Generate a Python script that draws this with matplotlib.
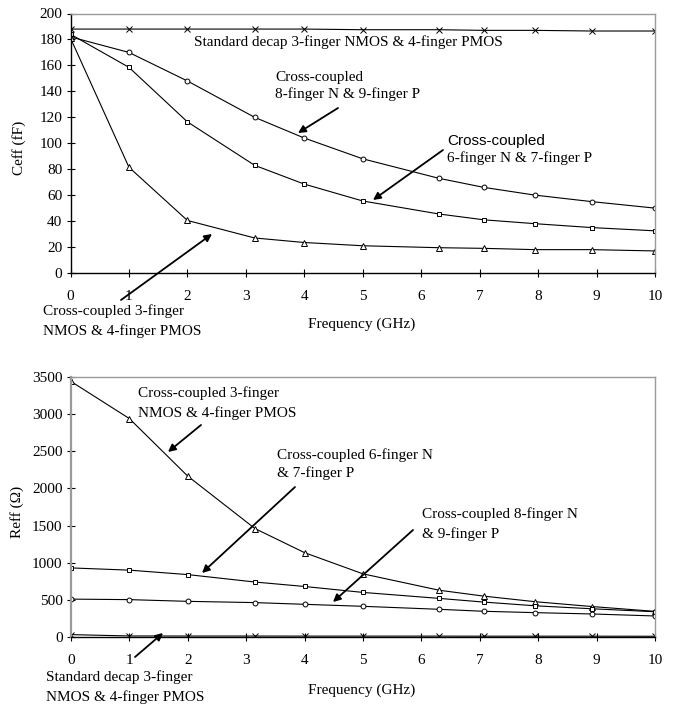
import matplotlib
matplotlib.use("Agg")
import matplotlib.pyplot as plt
from matplotlib.patches import FancyArrowPatch

# ---------------- data ----------------
freq = [0, 1, 2, 3.15, 4, 5, 6.3, 7.07, 7.95, 8.92, 10]

ceff_std = [188, 188, 188, 188, 188, 187.5, 187.5, 187, 187, 186.5, 186.5]
ceff_8f = [182, 170, 148, 120, 104, 88, 73, 66, 60, 55, 50]
ceff_6f = [184, 158.5, 116.5, 83, 68.5, 55.5, 45.5, 41, 38, 35, 32.5]
ceff_3f = [181, 81.5, 40.5, 27, 23.5, 21, 19.5, 19, 18, 18, 17]

reff_std = [32, 14, 13, 13, 12, 12, 12, 11, 11, 11, 10]
reff_3f = [3440, 2940, 2165, 1460, 1135, 850, 630, 550, 475, 410, 345]
reff_6f = [930, 900, 840, 740, 680, 600, 520, 470, 420, 380, 340]
reff_8f = [510, 503, 480, 463, 440, 413, 373, 346, 328, 310, 283]

x_ticks = list(range(0, 11))
ceff_ticks = list(range(0, 201, 20))
reff_ticks = list(range(0, 3501, 500))

# ---------------- style ----------------
W, H = 681, 707
SERIF = ["Liberation Serif", "DejaVu Serif"]
SANS = ["Liberation Sans", "DejaVu Sans"]
plt.rcParams["font.family"] = SERIF
FS = 11

fig = plt.figure(figsize=(W / 100, H / 100), dpi=100)


def P(x, y):
    return (x / W, 1 - y / H)


def make_ax(left, top, right, bottom):
    return fig.add_axes([left / W, 1 - bottom / H, (right - left) / W, (bottom - top) / H])


ax1 = make_ax(70.5, 13.5, 655, 273)
ax2 = make_ax(71, 377, 655, 637)

mk = dict(color="black", lw=0.8, mfc="white", mec="black", mew=0.7)

ax1.plot(freq, ceff_std, marker="x", ms=4, **mk)
ax1.plot(freq, ceff_8f, marker="o", ms=3.5, **mk)
ax1.plot(freq, ceff_6f, marker="s", ms=3.5, **mk)
ax1.plot(freq, ceff_3f, marker="^", ms=4, **mk)

ax2.plot(freq, reff_std, marker="x", ms=4, **mk)
ax2.plot(freq, reff_3f, marker="^", ms=4, **mk)
ax2.plot(freq, reff_6f, marker="s", ms=3.5, **mk)
ax2.plot(freq, reff_8f, marker="o", ms=3.5, **mk)

for ax, yt, ymax in ((ax1, ceff_ticks, 200), (ax2, reff_ticks, 3500)):
    ax.set_xlim(0, 10)
    ax.set_ylim(0, ymax)
    ax.set_xticks(x_ticks)
    ax.set_yticks(yt)
    ax.tick_params(direction="inout", length=6, width=0.8, labelsize=FS, colors="black")
    ax.tick_params(axis="x", pad=9)
    ax.tick_params(axis="y", pad=3)
    for s in ("top", "right"):
        ax.spines[s].set_color("#9a9a9a")
        ax.spines[s].set_linewidth(1.0)
    ax.spines["bottom"].set_color("black")
    ax.spines["bottom"].set_linewidth(1.0)
    ax.set_facecolor("white")

ax1.spines["left"].set_color("black")
ax1.spines["left"].set_linewidth(1.0)
ax2.spines["left"].set_color("#9a9a9a")
ax2.spines["left"].set_linewidth(1.6)

# axis titles
fig.text(*P(362, 324), "Frequency (GHz)", ha="center", va="center", fontsize=FS)
fig.text(*P(362, 690), "Frequency (GHz)", ha="center", va="center", fontsize=FS)
fig.text(*P(19, 148), "Ceff (fF)", ha="center", va="center", rotation=90, fontsize=FS)
fig.text(*P(17, 512), "Reff (Ω)", ha="center", va="center", rotation=90, fontsize=FS)


def label(x, y, s, family=SERIF):
    fig.text(*P(x, y), s, ha="left", va="center", fontsize=FS, family=family, zorder=10)


def arrow(tail, head):
    a = FancyArrowPatch(P(*tail), P(*head), transform=fig.transFigure,
                        arrowstyle="-|>", color="black", lw=1.3,
                        mutation_scale=11, shrinkA=0, shrinkB=0, zorder=10)
    fig.add_artist(a)


# top chart annotations
label(194, 42, "Standard decap 3-finger NMOS & 4-finger PMOS")
label(275, 77, "Cross-coupled")
label(275, 94, "8-finger N & 9-finger P")
arrow((338, 108), (298, 133))
label(447, 141, "Cross-coupled", family=SANS)
label(447, 158, "6-finger N & 7-finger P")
arrow((443, 150), (373, 200))
label(43, 311, "Cross-coupled 3-finger")
label(43, 331, "NMOS & 4-finger PMOS")
arrow((121, 300), (212, 234))

# bottom chart annotations
label(138, 393, "Cross-coupled 3-finger")
label(138, 413, "NMOS & 4-finger PMOS")
arrow((201, 425), (168, 452))
label(277, 455, "Cross-coupled 6-finger N")
label(277, 473, "& 7-finger P")
arrow((295, 487), (202, 573))
label(422, 514, "Cross-coupled 8-finger N")
label(422, 534, "& 9-finger P")
arrow((413, 530), (333, 602))
label(46, 677, "Standard decap 3-finger")
label(46, 697, "NMOS & 4-finger PMOS")
arrow((135, 657), (163, 633))

fig.savefig("out.png", dpi=100, facecolor="white")
